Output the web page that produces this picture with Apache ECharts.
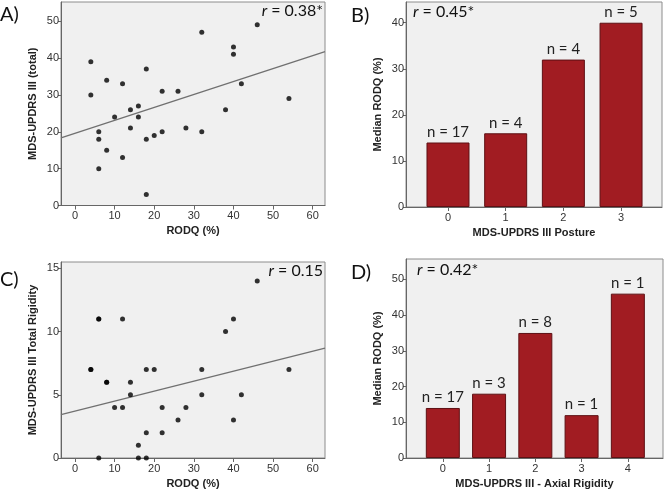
<!DOCTYPE html>
<html><head><meta charset="utf-8">
<script src="https://cdn.jsdelivr.net/npm/echarts@6/dist/echarts.min.js"></script>
<style>html,body{margin:0;padding:0;background:#fff}#c{width:666px;height:490px}</style>
</head><body><div id="c"></div>
<script>
// ---- data ----
const rodqA = [4,4,6,6,6,8,8,10,12,12,14,14,16,16,18,18,18,20,22,22,26,28,32,32,38,40,40,42,46,54];
const updrsTotal = [39,30,20,18,10,34,15,24,33,13,26,21,27,24,37,18,3,19,31,20,31,21,47,20,26,43,41,33,49,29];
const rodqC = [4,4,6,6,6,8,8,10,12,12,14,14,16,16,18,18,18,20,22,22,26,28,32,32,38,40,40,42,46,54];
const totalRigidity = [7,7,11,0,11,6,6,4,11,4,6,5,1,0,7,2,0,7,4,2,3,4,7,5,10,11,3,5,14,7];
const fitA = [19.6, 0.351];   // intercept, slope
const fitC = [3.70, 0.079];
const postureCats = [0,1,2,3];
const postureMedian = [14,16,32,40];
const postureN = ['n = 17','n = 4','n = 4','n = 5'];
const axialCats = [0,1,2,3,4];
const axialMedian = [14,18,35,12,46];
const axialN = ['n = 17','n = 3','n = 8','n = 1','n = 1'];
const xTicksRodq = [0,10,20,30,40,50,60];
const yTicksA = [0,10,20,30,40,50];
const yTicksB = [0,10,20,30,40];
const yTicksC = [0,5,10,15];
const yTicksD = [0,10,20,30,40,50];
const rTexts = ['0.38*','0.45*','0.15','0.42*'];

const narrow = "'Liberation Sans Narrow','Arial Narrow','Liberation Sans',Arial,sans-serif";
const cal = "Lato,'Open Sans',sans-serif";
const gridStyle = {show:true, backgroundColor:'#f0f0f0', borderColor:'#8c8c8c', borderWidth:1, containLabel:false};
const grids = [
  Object.assign({left:61, top:2, width:264, height:203.5}, gridStyle),
  Object.assign({left:406, top:2, width:256, height:205}, gridStyle),
  Object.assign({left:61, top:262, width:264, height:196.3}, gridStyle),
  Object.assign({left:406, top:259, width:257, height:199.3}, gridStyle)
];
function xAxis(idx, min, max, ticks, name){
  return {type:'value', gridIndex:idx, min:min, max:max, name:name, nameLocation:'middle', nameGap:20,
    nameTextStyle:{fontFamily:narrow, fontWeight:'bold', fontSize:11, color:'#222'},
    splitLine:{show:false},
    axisLine:{show:true, onZero:false, lineStyle:{color:'#666', width:1}},
    axisTick:{show:true, length:4, inside:false, customValues:ticks, lineStyle:{color:'#666'}},
    axisLabel:{customValues:ticks, fontFamily:narrow, fontSize:11, color:'#333', margin:5}};
}
function yAxis(idx, max, ticks, name){
  return {type:'value', gridIndex:idx, min:0, max:max, name:name, nameLocation:'middle', nameGap:23, nameRotate:90,
    nameTextStyle:{fontFamily:narrow, fontWeight:'bold', fontSize:11, color:'#222'},
    splitLine:{show:false},
    axisLine:{show:true, onZero:false, lineStyle:{color:'#666', width:1}},
    axisTick:{show:true, length:3, customValues:ticks, lineStyle:{color:'#666'}},
    axisLabel:{customValues:ticks, fontFamily:narrow, fontSize:11, color:'#333', margin:2}};
}
const xA=[-3.53,63.1], xC=[-3.53,63.1];
function fitLine(f, ext){ return [[ext[0], f[0]+f[1]*ext[0]],[ext[1], f[0]+f[1]*ext[1]]]; }
const barColor='#a11c22';
const option = {
  animation:false,
  backgroundColor:'#fff',
  grid: grids,
  xAxis:[
    xAxis(0, xA[0], xA[1], xTicksRodq, 'RODQ (%)'),
    xAxis(1, -0.728, 3.71, postureCats, 'MDS-UPDRS III Posture'),
    xAxis(2, xC[0], xC[1], xTicksRodq, 'RODQ (%)'),
    xAxis(3, -0.796, 4.76, axialCats, 'MDS-UPDRS III - Axial Rigidity')
  ],
  yAxis:[
    yAxis(0, 55.2, yTicksA, 'MDS-UPDRS III (total)'),
    yAxis(1, 44.5, yTicksB, 'Median RODQ (%)'),
    yAxis(2, 15.5, yTicksC, 'MDS-UPDRS III Total Rigidity'),
    yAxis(3, 55.7, yTicksD, 'Median RODQ (%)')
  ],
  series:[
    {type:'line', xAxisIndex:0, yAxisIndex:0, data:fitLine(fitA,xA), symbol:'none', lineStyle:{color:'#707070', width:1.3}, z:2},
    {type:'scatter', xAxisIndex:0, yAxisIndex:0, data:rodqA.map((x,i)=>[x,updrsTotal[i]]), symbolSize:5, itemStyle:{color:'#000'}, z:3},
    {type:'line', xAxisIndex:2, yAxisIndex:2, data:fitLine(fitC,xC), symbol:'none', lineStyle:{color:'#707070', width:1.3}, z:2},
    {type:'scatter', xAxisIndex:2, yAxisIndex:2, data:rodqC.map((x,i)=>[x,totalRigidity[i]]), symbolSize:5, itemStyle:{color:'#000'}, z:3},
    {type:'bar', xAxisIndex:1, yAxisIndex:1, barWidth:43, data:postureCats.map((c,i)=>[c,postureMedian[i]]),
      itemStyle:{color:barColor, borderColor:'#5e1014', borderWidth:1},
      label:{show:true, position:'top', distance:3, formatter:p=>postureN[p.dataIndex], fontFamily:cal, fontSize:15, color:'#222'}},
    {type:'bar', xAxisIndex:3, yAxisIndex:3, barWidth:34, data:axialCats.map((c,i)=>[c,axialMedian[i]]),
      itemStyle:{color:barColor, borderColor:'#5e1014', borderWidth:1},
      label:{show:true, position:'top', distance:3, formatter:p=>axialN[p.dataIndex], fontFamily:cal, fontSize:15, color:'#222'}}
  ],
  graphic:[
    {type:'text', left:0, top:5, style:{text:'A)', font:'20px '+cal, fill:'#111'}},
    {type:'text', left:351, top:6, style:{text:'B)', font:'20px '+cal, fill:'#111'}},
    {type:'text', left:0, top:270, style:{text:'C)', font:'20px '+cal, fill:'#111'}},
    {type:'text', left:351, top:263, style:{text:'D)', font:'20px '+cal, fill:'#111'}},
    {type:'text', right:343, top:3, z:10, style:{text:'{i|r} = '+rTexts[0], rich:{i:{fontStyle:'italic', fontFamily:cal, fontSize:16, fill:'#111'}}, font:'16px '+cal, fill:'#111', align:'right'}},
    {type:'text', left:413, top:4, z:10, style:{text:'{i|r} = '+rTexts[1], rich:{i:{fontStyle:'italic', fontFamily:cal, fontSize:16, fill:'#111'}}, font:'16px '+cal, fill:'#111'}},
    {type:'text', right:343, top:263, z:10, style:{text:'{i|r} = '+rTexts[2], rich:{i:{fontStyle:'italic', fontFamily:cal, fontSize:16, fill:'#111'}}, font:'16px '+cal, fill:'#111', align:'right'}},
    {type:'text', left:417, top:262, z:10, style:{text:'{i|r} = '+rTexts[3], rich:{i:{fontStyle:'italic', fontFamily:cal, fontSize:16, fill:'#111'}}, font:'16px '+cal, fill:'#111'}}
  ]
};
const chart = echarts.init(document.getElementById('c'), null, {renderer:'canvas'});
chart.setOption(option);
</script></body></html>
